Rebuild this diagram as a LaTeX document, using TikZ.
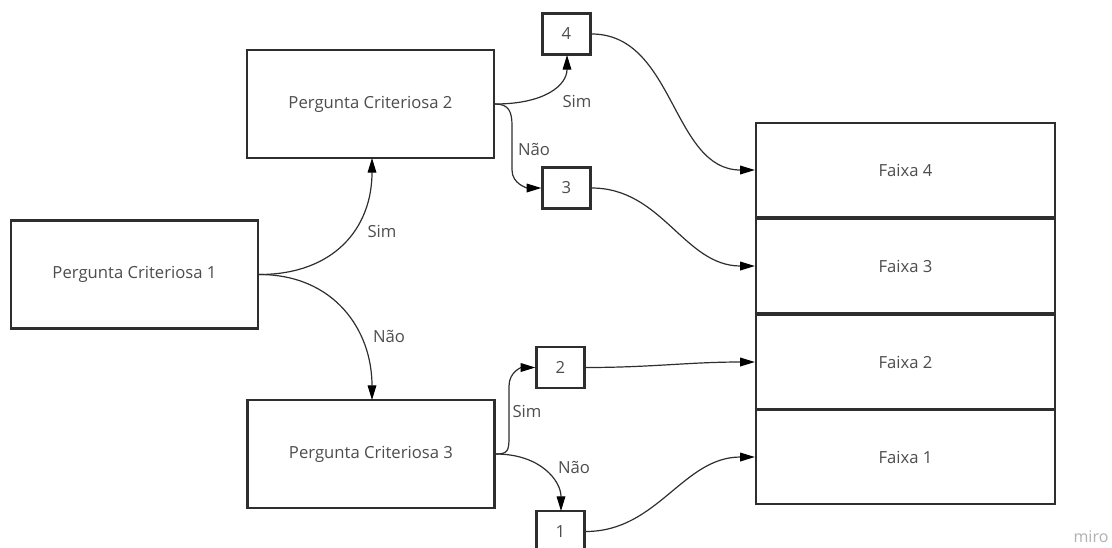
\documentclass[tikz,border=0pt]{standalone}
\usepackage{fontspec}
\setmainfont{Open Sans}
\usetikzlibrary{arrows.meta}
\definecolor{boxline}{HTML}{2E2E2E}
\definecolor{txt}{HTML}{4D4D4D}
\definecolor{mirogray}{HTML}{B0B0B0}
\tikzset{
  bigbox/.style={draw=boxline, line width=1.7pt, fill=white, minimum width=185.25pt, minimum height=81pt, inner sep=0pt, text=txt, font=\fontsize{12.5}{14}\selectfont},
  smallbox/.style={draw=boxline, line width=1.7pt, fill=white, minimum width=36pt, minimum height=30.75pt, inner sep=0pt, text=txt, font=\fontsize{12.5}{14}\selectfont},
  faixabox/.style={draw=boxline, line width=1.7pt, fill=white, minimum width=224.25pt, minimum height=70.5pt, inner sep=0pt, text=txt, font=\fontsize{12.5}{14}\selectfont},
  conn/.style={draw=boxline, line width=0.9pt, -{Triangle[length=11pt,width=6.5pt,fill=black,color=black]}},
  lbl/.style={text=txt, font=\fontsize{12.5}{14}\selectfont, inner sep=0pt}
}
\begin{document}
\begin{tikzpicture}[x=0.75pt,y=-0.75pt]
\useasboundingbox (0,0) rectangle (1112,547);
% question boxes
\node[bigbox] (pc1) at (134.5,274.5) {Pergunta Criteriosa 1};
\node[bigbox] (pc2) at (370.5,104) {Pergunta Criteriosa 2};
\node[bigbox] (pc3) at (371,454) {Pergunta Criteriosa 3};
% small number boxes
\node[smallbox] (b4) at (566.5,34) {4};
\node[smallbox] (b3) at (566.5,188) {3};
\node[smallbox] (b2) at (560.5,367.5) {2};
\node[smallbox] (b1) at (560.5,531.5) {1};
% faixa boxes
\node[faixabox] (f4) at (905.5,170) {Faixa 4};
\node[faixabox] (f3) at (905.5,266) {Faixa 3};
\node[faixabox] (f2) at (905.5,362) {Faixa 2};
\node[faixabox] (f1) at (905.5,457) {Faixa 1};
% helper coordinates
\coordinate (t2) at (372,158);
\coordinate (t3) at (372,400);
\coordinate (t4) at (567,55);
\coordinate (t1) at (561,511);
\coordinate (k1) at (512,126);
\coordinate (k2) at (512,170);
\coordinate (k3) at (509,437);
\coordinate (k4) at (509,386);
% connectors from PC1
\draw[conn] (pc1.east) .. controls +(75,0) and +(0,70) .. (t2);
\draw[conn] (pc1.east) .. controls +(75,0) and +(0,-70) .. (t3);
\node[lbl] (s1) at (382,231) {Sim};
\node[lbl] (n1) at (389,336) {Não};
% connectors from PC2
\draw[conn] (pc2.east) .. controls +(50,0) and +(0,30) .. (t4);
\draw[conn] (pc2.east) .. controls +(14,0) and +(0,-14) .. (k1) -- (k2) .. controls +(0,14) and +(-14,0) .. (b3.west);
\node[lbl] (s2) at (577,101) {Sim};
\node[lbl] (n2) at (534,149) {Não};
% connectors from PC3
\draw[conn] (pc3.east) .. controls +(12,0) and +(0,14) .. (k3) -- (k4) .. controls +(0,-14) and +(-14,0) .. (b2.west);
\draw[conn] (pc3.east) .. controls +(45,0) and +(0,-30) .. (t1);
\node[lbl] (s3) at (527,411) {Sim};
\node[lbl] (n3) at (574,467) {Não};
% connectors to faixas
\draw[conn] (b4.east) to[out=0,in=180] (f4.west);
\draw[conn] (b3.east) to[out=0,in=180] (f3.west);
\draw[conn] (b2.east) to[out=0,in=180] (f2.west);
\draw[conn] (b1.east) to[out=0,in=180] (f1.west);
% watermark
\node[text=mirogray, font=\fontsize{12}{14}\selectfont, inner sep=0pt] (miro) at (1091,537) {miro};
\end{tikzpicture}
\end{document}
